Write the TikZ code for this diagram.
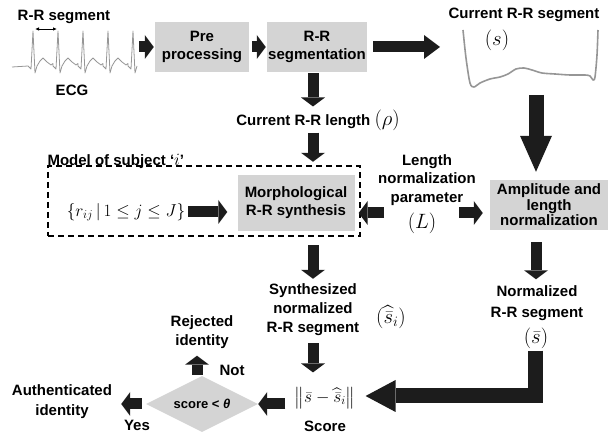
\documentclass[tikz,border=0pt]{standalone}
\usepackage[no-math]{fontspec}
\setmainfont{Liberation Sans}
\usepackage{amsmath,amssymb}
\usetikzlibrary{shapes.geometric, arrows.meta, positioning, calc}

\definecolor{boxgray}{RGB}{212,212,212}
\definecolor{arrowdark}{RGB}{28,28,28}
\definecolor{wavegray}{RGB}{150,150,150}

\newcommand{\mathbig}{\fontsize{17.28}{20}\selectfont}
\newcommand{\mathhuge}{\fontsize{20.74}{24}\selectfont}

\tikzset{
  procbox/.style={fill=boxgray, align=center, inner sep=0pt,
    font=\bfseries\fontsize{15}{18}\selectfont},
  lbltext/.style={align=center, inner sep=0pt,
    font=\bfseries\fontsize{15}{19}\selectfont},
  mathlbl/.style={inner sep=0pt, font=\mathbig},
  parlbl/.style={inner sep=0pt, font=\mathhuge},
  flowarrow/.style={-{Triangle[length=9pt,width=24pt,line width=0pt]},
    line width=11pt, draw=arrowdark},
  bigarrow/.style={-{Triangle[length=16pt,width=24pt,line width=0pt]},
    line width=11pt, draw=arrowdark},
  heavyarrow/.style={-{Triangle[length=30pt,width=32pt,line width=0pt]},
    line width=15pt, draw=arrowdark},
  modelbox/.style={draw, dash pattern=on 6pt off 4pt, line width=1.3pt,
    minimum width=312pt, minimum height=70pt},
  decision/.style={diamond, fill=boxgray, aspect=2, inner sep=0pt,
    minimum width=112pt, minimum height=56pt,
    font=\bfseries\fontsize{13}{15}\selectfont},
  wave/.style={draw=wavegray, line join=round},
}

\begin{document}
\begin{tikzpicture}[x=1pt, y=-1pt]
  \useasboundingbox (0,0) rectangle (611,435);

  % ECG input
  \node[lbltext] (rrlabel) at (64,17) {R-R segment};
  \coordinate (rra) at (35,29);
  \coordinate (rrb) at (57,29);
  \draw[{Latex[length=4pt,width=3.5pt]}-{Latex[length=4pt,width=3.5pt]}, line width=0.8pt] (rra) -- (rrb);
  \draw[wave, line width=0.8pt] (12,67)
    \foreach \X in {33,58,83,108} {
      -- (\X-5,66) -- (\X-2,69) -- (\X,31) -- (\X+2,73) -- (\X+4,66)
      -- (\X+7,61) -- (\X+10,58) -- (\X+14,62) -- (\X+18,65) -- (\X+20,63.5)}
    -- (128,66) -- (131,69) -- (133,31) -- (135,73) -- (137,66);
  \node[lbltext] (ecg) at (72,90) {ECG};
  \coordinate (ecgout) at (139,47);

  % Top row
  \node[procbox, minimum width=94pt, minimum height=50pt] (pre) at (202,47) {Pre\\processing};
  \node[procbox, minimum width=100pt, minimum height=50pt] (seg) at (317,47) {R-R\\segmentation};
  \coordinate (curin) at (440,47);

  % Current segment
  \node[lbltext] (curtitle) at (524,15) {Current R-R segment};
  \node[parlbl] (curs) at (497,40) {$(s)$};
  \draw[wave, line width=1.6pt] plot[smooth, tension=0.5] coordinates {(463,30) (466,58) (470,83) (474,87) (480,83) (490,79) (500,77) (508,74) (516,69) (524,68) (532,70) (542,73) (555,74) (570,75) (585,75) (590,76) (593,80) (595,77) (597,55) (598,30)};
  \coordinate (curout) at (536,95);

  \node[lbltext] (len) at (318,120) {Current R-R length {\mathhuge$(\rho)$}};

  % Model of subject
  \node[modelbox] (model) at (204,201) {};
  \node[lbltext, anchor=south west] (modellabel) at ([yshift=-3pt]model.north west) {Model of subject ‘{\mathbig$i$}’};
  \node[mathlbl] (rset) at (126,212) {$\left\{ r_{ij} \,\middle|\, 1 \le j \le J \right\}$};
  \node[procbox, minimum width=117pt, minimum height=56pt] (synth) at (296,203) {Morphological\\R-R synthesis};

  \node[lbltext, font=\bfseries\fontsize{15}{18.5}\selectfont] (lenpar) at (427,180) {Length\\normalization\\parameter};
  \node[parlbl] (lpar) at (422,223) {$(L)$};
  \coordinate (lpleft) at (384,213);
  \coordinate (lpright) at (459,213);

  \node[procbox, font=\bfseries\fontsize{15}{15.5}\selectfont, minimum width=118pt, minimum height=50pt] (amp) at (549,205) {Amplitude and\\length\\normalization};

  % Lower part
  \node[lbltext] (synthlbl) at (313,310) {Synthesized\\normalized\\R-R segment};
  \node[parlbl] (shat) at (391,317) {$(\widehat{\bar{s}}_i)$};
  \node[mathlbl] (norm) at (325,398) {$\left\| \bar{s} - \widehat{\bar{s}}_i \right\|$};
  \node[lbltext] (score) at (325,426) {Score};

  \node[lbltext, font=\bfseries\fontsize{15}{21}\selectfont] (normlbl) at (537,303) {Normalized\\R-R segment};
  \node[parlbl] (sbar) at (536,338) {$(\bar{s})$};

  \node[decision] (dec) at (202,404) {score < \textit{θ}};
  \node[lbltext, font=\bfseries\fontsize{15}{20}\selectfont] (auth) at (62,402) {Authenticated\\identity};
  \node[lbltext] (yes) at (137,425) {Yes};
  \node[lbltext] (rej) at (202,332) {Rejected\\identity};
  \node[lbltext] (no) at (232,370) {Not};

  % Arrows
  \draw[flowarrow, shorten >=1pt] (ecgout) -- (pre.west);
  \draw[flowarrow, shorten <=3pt, shorten >=1pt] (pre.east) -- (seg.west);
  \draw[bigarrow, shorten <=6pt] (seg.east) -- (curin);
  \draw[flowarrow, shorten <=1pt, shorten >=3pt] ([xshift=-4pt]seg.south) -- ([xshift=-5pt]len.north);
  \draw[flowarrow, shorten <=2pt, shorten >=13pt] ([xshift=-5pt]len.south) -- ([xshift=17pt]synth.north);
  \draw[heavyarrow, shorten >=8pt, -{Triangle[length=36pt,width=32pt,line width=0pt]}] (curout) -- (curout |- amp.north);
  \draw[flowarrow, shorten <=3pt, shorten >=10pt] (rset.east) -- (synth.west |- rset.east);
  \draw[flowarrow, shorten >=-2pt] (lpleft) -- (model.east |- lpleft);
  \draw[flowarrow, shorten >=7pt] (lpright) -- (amp.west |- lpright);
  \draw[flowarrow, shorten <=14pt, shorten >=5pt] ([xshift=17pt]synth.south) -- (synthlbl.north);
  \draw[flowarrow, shorten >=6pt, shorten <=12pt] ([xshift=-13pt]amp.south) -- ([xshift=-1pt]normlbl.north);
  \draw[flowarrow, shorten <=7pt, shorten >=15pt] (synthlbl.south) -- ([xshift=-12pt]norm.north);
  \draw[heavyarrow] ([xshift=-1pt,yshift=-2pt]sbar.south) |- ([xshift=10pt,yshift=2pt]norm.east);
  \draw[flowarrow, shorten <=9pt] (dec.east -| norm.west) -- (dec.east);
  \draw[flowarrow, shorten <=4pt, shorten >=9pt] (dec.west) -- (auth.east |- dec.west);
  \draw[flowarrow, shorten <=1pt, shorten >=7pt] ([xshift=-5pt]dec.north) -- ([xshift=-5pt]rej.south);
\end{tikzpicture}
\end{document}
